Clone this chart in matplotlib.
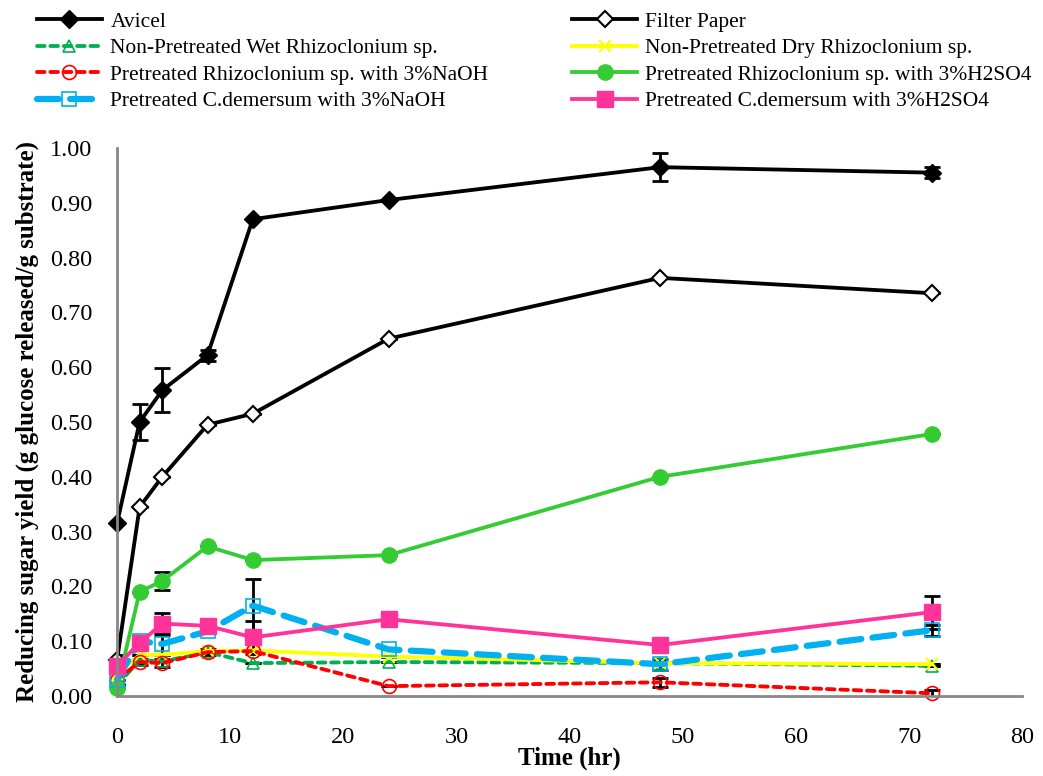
import numpy as np
import matplotlib.pyplot as plt

plt.rcParams['font.family'] = ['Liberation Serif', 'DejaVu Serif']

time = [0, 2, 4, 8, 12, 24, 48, 72]

avicel = [0.315, 0.500, 0.558, 0.622, 0.870, 0.905, 0.965, 0.955]
avicel_err = [0.0, 0.032, 0.040, 0.010, 0.0, 0.0, 0.025, 0.010]
filter_paper = [0.065, 0.345, 0.400, 0.495, 0.515, 0.652, 0.763, 0.735]
filter_err = [0.010, 0.0, 0.0, 0.0, 0.0, 0.0, 0.0, 0.0]
wet_rhizo = [0.020, 0.065, 0.063, 0.080, 0.060, 0.062, 0.060, 0.055]
wet_err = [0.0, 0.0, 0.0, 0.0, 0.0, 0.0, 0.0, 0.0]
dry_rhizo = [0.040, 0.075, 0.075, 0.082, 0.083, 0.072, 0.060, 0.058]
dry_err = [0.0, 0.0, 0.0, 0.0, 0.0, 0.0, 0.0, 0.0]
rhizo_naoh = [0.030, 0.062, 0.060, 0.080, 0.082, 0.018, 0.025, 0.005]
rhizo_naoh_err = [0.0, 0.005, 0.008, 0.005, 0.0, 0.0, 0.008, 0.006]
rhizo_h2so4 = [0.015, 0.190, 0.210, 0.273, 0.248, 0.257, 0.400, 0.478]
rhizo_h2so4_err = [0.0, 0.0, 0.017, 0.0, 0.0, 0.0, 0.0, 0.0]
cdem_naoh = [0.030, 0.100, 0.095, 0.118, 0.165, 0.085, 0.058, 0.120]
cdem_naoh_err = [0.008, 0.0, 0.020, 0.0, 0.048, 0.0, 0.010, 0.010]
cdem_h2so4 = [0.055, 0.097, 0.132, 0.128, 0.107, 0.140, 0.093, 0.153]
cdem_h2so4_err = [0.0, 0.0, 0.020, 0.0, 0.030, 0.0, 0.0, 0.030]

fig = plt.figure(figsize=(10.43, 7.76), dpi=100)
ax = fig.add_axes([0.1122, 0.1031, 0.8678, 0.7062])

series = [
    ("Avicel", avicel, avicel_err, dict(color='black', ls='-', lw=2.75, marker='D', ms=9, mfc='black', mec='black')),
    ("Filter Paper", filter_paper, filter_err, dict(color='black', ls='-', lw=2.75, marker='D', ms=8, mfc='white', mec='black', mew=1.5)),
    ("Non-Pretreated Wet Rhizoclonium sp.", wet_rhizo, wet_err, dict(color='#00b050', ls=(0, (2, 1.5)), lw=2.75, marker='^', ms=9, mfc='none', mec='#00b050', mew=1.2, dash_capstyle='round')),
    ("Non-Pretreated Dry Rhizoclonium sp.", dry_rhizo, dry_err, dict(color='#ffff00', ls='-', lw=2.75, marker='x', ms=8, mec='#ffff00', mew=1.5)),
    ("Pretreated Rhizoclonium sp. with 3%NaOH", rhizo_naoh, rhizo_naoh_err, dict(color='#ff0000', ls=(0, (2, 1.5)), lw=2.75, marker='o', ms=10, mfc='none', mec='#ff0000', mew=1.2, dash_capstyle='round')),
    ("Pretreated Rhizoclonium sp. with 3%H2SO4", rhizo_h2so4, rhizo_h2so4_err, dict(color='#33cc33', ls='-', lw=2.75, marker='o', ms=11, mfc='#33cc33', mec='#33cc33')),
    ("Pretreated C.demersum with 3%NaOH", cdem_naoh, cdem_naoh_err, dict(color='#00b0f0', ls=(0, (3.5, 1.8)), lw=4.5, marker='s', ms=10, mfc='none', mec='#00b0f0', mew=1.2, dash_capstyle='round')),
    ("Pretreated C.demersum with 3%H2SO4", cdem_h2so4, cdem_h2so4_err, dict(color='#ff3399', ls='-', lw=2.75, marker='s', ms=11, mfc='#ff3399', mec='#ff3399')),
]

handles = []
for name, vals, err, st in series:
    ax.errorbar(time, vals, yerr=err, fmt='none', ecolor='black', elinewidth=2, capsize=6, capthick=2, zorder=1)
    h, = ax.plot(time, vals, label=name, zorder=2, clip_on=False, **st)
    handles.append(h)

ax.set_xlim(0, 80)
ax.set_ylim(0, 1.0)
ax.set_xticks(np.arange(0, 81, 10))
ax.set_yticks(np.arange(0, 1.01, 0.1))
ax.set_yticklabels(["%.2f" % v for v in np.arange(0, 1.01, 0.1)])
ax.tick_params(axis='y', length=0, labelsize=17.5, pad=18)
ax.tick_params(axis='x', length=0, labelsize=17.5, pad=22)
for s in ['top', 'right']:
    ax.spines[s].set_visible(False)
for s in ['left', 'bottom']:
    ax.spines[s].set_color('#888888')
    ax.spines[s].set_linewidth(2)
ax.set_xlabel("Time (hr)", fontsize=18, fontweight='bold', labelpad=-1)
ax.set_ylabel("Reducing sugar yield (g glucose released/g substrate)", fontsize=18, fontweight='bold', labelpad=8)

# legend is filled row by row in the reference
order = [0, 2, 4, 6, 1, 3, 5, 7]
fig.legend(handles=[handles[i] for i in order], loc='upper left', bbox_to_anchor=(0.017, 1.01), ncol=2, frameon=False,
           fontsize=15.5, handlelength=3.0, columnspacing=3.9, labelspacing=0.3, handletextpad=0.4)

plt.savefig("out.png", dpi=100)
